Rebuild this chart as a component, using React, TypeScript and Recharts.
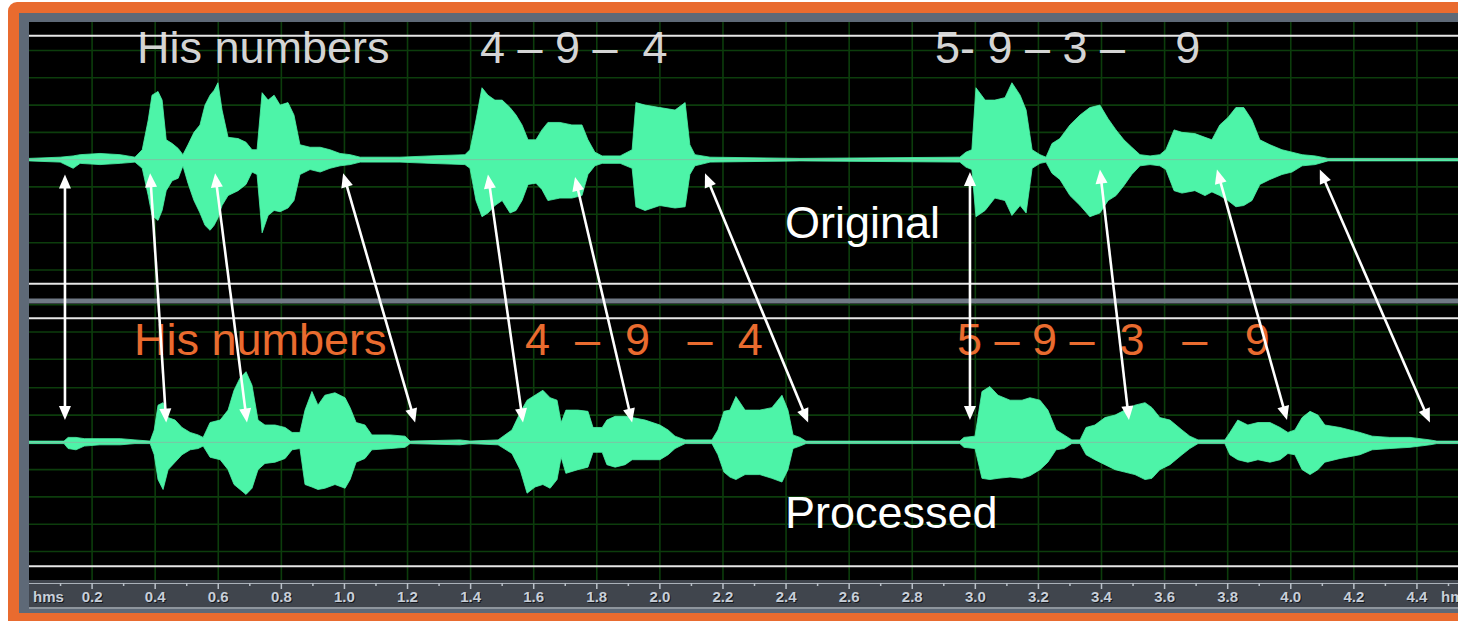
import React from 'react';
import { ComposedChart, Area, XAxis, YAxis, CartesianGrid, ReferenceLine, Customized } from 'recharts';

// envelope of each track: [time s, upper %, lower %] (100% = full scale)
const ORIGINAL: number[][] = [
  [0.000, 1, -1], [0.099, 2, -2], [0.140, 3, -7], [0.162, 4, -3], [0.225, 5, -4], [0.289, 4, -3],
  [0.336, 2, -2], [0.359, 8, -7], [0.378, 32, -29], [0.390, 52, -45], [0.409, 55, -49], [0.422, 48, -41],
  [0.435, 16, -25], [0.454, 13, -17], [0.473, 9, -15], [0.488, 4, -5], [0.504, 12, -19], [0.523, 22, -33],
  [0.542, 28, -43], [0.558, 44, -53], [0.574, 52, -57], [0.587, 56, -53], [0.599, 62, -47], [0.612, 40, -37],
  [0.631, 18, -29], [0.663, 17, -25], [0.688, 14, -20], [0.707, 8, -10], [0.723, 8, -12], [0.739, 54, -59],
  [0.758, 48, -45], [0.777, 52, -41], [0.796, 44, -42], [0.821, 46, -39], [0.840, 36, -33], [0.859, 12, -12],
  [0.891, 10, -8], [0.923, 10, -10], [0.954, 8, -7], [0.986, 5, -5], [1.018, 4, -4], [1.050, 2, -2],
  [1.176, 2, -2], [1.271, 3, -3], [1.382, 4, -4], [1.398, 8, -7], [1.417, 32, -33], [1.436, 58, -46],
  [1.455, 52, -43], [1.477, 48, -37], [1.500, 48, -33], [1.525, 42, -43], [1.544, 36, -41], [1.563, 28, -33],
  [1.582, 16, -20], [1.607, 16, -19], [1.626, 24, -24], [1.645, 30, -33], [1.683, 30, -31], [1.721, 28, -31],
  [1.753, 28, -29], [1.772, 16, -12], [1.794, 6, -5], [1.817, 3, -3], [1.874, 3, -3], [1.912, 8, -7],
  [1.924, 46, -38], [1.953, 44, -41], [2.000, 42, -37], [2.048, 40, -39], [2.080, 46, -38], [2.095, 12, -12],
  [2.111, 4, -5], [2.159, 2, -2], [2.444, 1, -1], [2.951, 2, -2], [2.970, 6, -6], [2.989, 8, -8],
  [3.002, 58, -46], [3.031, 48, -41], [3.062, 48, -31], [3.094, 50, -33], [3.116, 62, -45], [3.142, 52, -37],
  [3.161, 40, -43], [3.180, 8, -7], [3.205, 4, -3], [3.224, 2, -2], [3.243, 13, -11], [3.268, 17, -16],
  [3.300, 28, -29], [3.332, 36, -37], [3.363, 42, -46], [3.395, 44, -43], [3.421, 33, -33], [3.446, 24, -29],
  [3.471, 16, -21], [3.496, 10, -12], [3.522, 4, -5], [3.554, 3, -4], [3.585, 4, -5], [3.604, 8, -8],
  [3.630, 24, -25], [3.655, 22, -27], [3.696, 21, -25], [3.728, 18, -29], [3.750, 16, -26], [3.775, 28, -29],
  [3.801, 34, -33], [3.826, 42, -38], [3.851, 42, -37], [3.877, 32, -33], [3.902, 16, -20], [3.934, 12, -16],
  [3.972, 8, -12], [4.004, 6, -10], [4.036, 4, -5], [4.077, 3, -4], [4.118, 1, -1], [4.565, 1, -1],
];

const PROCESSED: number[][] = [
  [0.000, 1, -1], [0.111, 1, -1], [0.124, 4, -5], [0.149, 4, -6], [0.175, 3, -3], [0.225, 3, -2],
  [0.289, 3, -2], [0.336, 2, -1], [0.384, 1, -1], [0.397, 10, -10], [0.409, 30, -30], [0.425, 32, -38],
  [0.441, 20, -22], [0.463, 18, -16], [0.485, 12, -10], [0.511, 8, -6], [0.536, 6, -5], [0.552, 4, -3],
  [0.574, 16, -12], [0.606, 18, -14], [0.631, 26, -22], [0.650, 42, -34], [0.669, 52, -38], [0.688, 57, -42],
  [0.707, 46, -37], [0.726, 18, -22], [0.748, 14, -17], [0.780, 14, -16], [0.812, 12, -13], [0.834, 8, -6],
  [0.859, 8, -5], [0.875, 26, -34], [0.897, 41, -36], [0.916, 30, -38], [0.938, 38, -37], [0.970, 40, -34],
  [1.002, 36, -37], [1.018, 28, -30], [1.037, 16, -16], [1.065, 14, -13], [1.087, 6, -6], [1.145, 6, -5],
  [1.192, 5, -4], [1.208, 1, -1], [1.366, 2, -2], [1.398, 1, -1], [1.487, 2, -2], [1.531, 10, -9],
  [1.557, 24, -22], [1.579, 34, -41], [1.604, 38, -36], [1.629, 42, -34], [1.652, 36, -37], [1.674, 34, -30],
  [1.687, 16, -12], [1.702, 26, -25], [1.740, 26, -22], [1.772, 25, -20], [1.788, 12, -8], [1.817, 12, -8],
  [1.832, 18, -18], [1.858, 21, -20], [1.890, 21, -18], [1.912, 20, -14], [1.953, 18, -14], [2.000, 14, -14],
  [2.026, 10, -10], [2.048, 5, -5], [2.080, 2, -1], [2.165, 2, -1], [2.184, 10, -10], [2.203, 25, -24],
  [2.222, 26, -28], [2.241, 37, -30], [2.270, 26, -26], [2.317, 26, -26], [2.355, 28, -29], [2.387, 38, -32],
  [2.406, 26, -22], [2.422, 6, -5], [2.444, 4, -3], [2.463, 1, -1], [2.951, 1, -1], [2.964, 4, -4],
  [2.999, 5, -5], [3.021, 41, -29], [3.046, 45, -30], [3.072, 38, -29], [3.110, 34, -28], [3.148, 34, -29],
  [3.173, 36, -27], [3.205, 34, -22], [3.230, 26, -16], [3.256, 10, -6], [3.281, 6, -5], [3.306, 2, -1],
  [3.332, 2, -1], [3.351, 12, -10], [3.379, 14, -14], [3.411, 20, -18], [3.443, 22, -22], [3.474, 26, -24],
  [3.506, 30, -26], [3.538, 32, -30], [3.560, 28, -29], [3.585, 20, -22], [3.617, 18, -18], [3.655, 10, -10],
  [3.680, 5, -5], [3.706, 2, -1], [3.791, 2, -1], [3.807, 8, -10], [3.832, 18, -14], [3.864, 14, -16],
  [3.896, 16, -14], [3.934, 16, -16], [3.966, 12, -14], [3.991, 8, -9], [4.013, 10, -10], [4.036, 20, -22],
  [4.061, 25, -26], [4.086, 22, -22], [4.108, 14, -16], [4.156, 12, -13], [4.219, 8, -10], [4.258, 5, -6],
  [4.314, 4, -5], [4.378, 4, -4], [4.441, 2, -2], [4.463, 1, -1], [4.565, 1, -1],
];

// arrows: [time on original, amplitude %, time on processed, amplitude %]
const ARROWS: number[][] = [
  [0.114, -12, 0.114, 18], [0.384, -11, 0.435, 16], [0.590, -11, 0.691, 16], [0.996, -11, 1.224, 16],
  [1.455, -12, 1.566, 16], [1.731, -14, 1.912, 16], [2.143, -11, 2.470, 16], [2.983, -10, 2.983, 18],
  [3.395, -8, 3.487, 18], [3.766, -8, 3.988, 18], [4.092, -8, 4.441, 16],
];

const RULER_TICKS = [
  0.1, 0.2, 0.3, 0.4, 0.5, 0.6, 0.7, 0.8, 0.9, 1.0, 1.1, 1.2, 1.3, 1.4, 1.5, 1.6, 1.7, 1.8, 1.9, 2.0, 2.1, 2.2,
  2.3, 2.4, 2.5, 2.6, 2.7, 2.8, 2.9, 3.0, 3.1, 3.2, 3.3, 3.4, 3.5, 3.6, 3.7, 3.8, 3.9, 4.0, 4.1, 4.2, 4.3, 4.4, 4.5,
];
const GRID_X = [
  0.2, 0.4, 0.6, 0.8, 1.0, 1.2, 1.4, 1.6, 1.8, 2.0, 2.2, 2.4, 2.6, 2.8, 3.0, 3.2, 3.4, 3.6, 3.8, 4.0, 4.2, 4.4,
];
const GRID_Y = [202, 180, 158, 136, 114, 92, 70, 47, 25, 3, -3, -25, -47, -70, -92, -114, -136, -158, -180, -202];
const TRACK_EDGES = [214, 14, -14, -214];

const X_MAX = 4.565;
const ORIG_CENTER = 114;
const PROC_CENTER = -114;

const WAVE = '#4df4a8';
const ORANGE = '#e96b2f';
const FRAME = '#5e6977';
const FONT = '"Liberation Sans", Arial, sans-serif';

// chart origin on the page
const CX = 29;
const CY = 22;

const CAPTIONS = [
  { text: 'His numbers', x: 137, y: 63, fill: '#d4d4d4' },
  { text: '4 – 9 –  4', x: 480, y: 63, fill: '#d4d4d4' },
  { text: '5- 9 – 3 –    9', x: 935, y: 63, fill: '#d4d4d4' },
  { text: 'Original', x: 785, y: 238, fill: '#ffffff' },
  { text: 'His numbers', x: 134, y: 355, fill: ORANGE },
  { text: '4  –  9   –  4', x: 525, y: 355, fill: ORANGE },
  { text: '5 – 9 –  3   –   9', x: 957, y: 355, fill: ORANGE },
  { text: 'Processed', x: 785, y: 528, fill: '#ffffff' },
];

const origRows = ORIGINAL.map(([t, hi, lo]) => ({ t, range: [ORIG_CENTER + lo, ORIG_CENTER + hi] }));
const procRows = PROCESSED.map(([t, hi, lo]) => ({ t, range: [PROC_CENTER + lo, PROC_CENTER + hi] }));

function Captions() {
  return (
    <g style={{ fontFamily: FONT }}>
      {CAPTIONS.map((c, i) => (
        <text key={i} x={c.x - CX} y={c.y - CY} fill={c.fill} fontSize={45} style={{ whiteSpace: 'pre' }}>
          {c.text}
        </text>
      ))}
      <text x={33 - CX + 1} y={602 - CY + 1} fill="#15181d" fontSize={15} fontWeight="bold">hms</text>
      <text x={33 - CX} y={602 - CY} fill="#c8cfd9" fontSize={15} fontWeight="bold">hms</text>
      <text x={1441 - CX + 1} y={602 - CY + 1} fill="#15181d" fontSize={15} fontWeight="bold">hms</text>
      <text x={1441 - CX} y={602 - CY} fill="#c8cfd9" fontSize={15} fontWeight="bold">hms</text>
    </g>
  );
}

function RulerTick(props: any) {
  const { x, y, payload } = props;
  const v = payload.value as number;
  const major = Math.round(v * 10) % 2 === 0;
  const label = v.toFixed(1);
  return (
    <g style={{ fontFamily: FONT }}>
      <line x1={x} x2={x} y1={y + 3} y2={y + (major ? 9 : 6)} stroke="#b9c0c8" strokeWidth={1.5} />
      {major && (
        <>
          <text x={x + 1} y={y + 23} textAnchor="middle" fill="#15181d" fontSize={15} fontWeight="bold">{label}</text>
          <text x={x} y={y + 22} textAnchor="middle" fill="#c8cfd9" fontSize={15} fontWeight="bold">{label}</text>
        </>
      )}
    </g>
  );
}

function Arrow(props: any) {
  const { x1, y1, x2, y2 } = props;
  const len = Math.hypot(x2 - x1, y2 - y1) || 1;
  const dx = (x2 - x1) / len;
  const dy = (y2 - y1) / len;
  const L = 14;
  const W = 6;
  const head = (px: number, py: number, ux: number, uy: number) =>
    `${px},${py} ${px - L * ux - W * uy},${py - L * uy + W * ux} ${px - L * ux + W * uy},${py - L * uy - W * ux}`;
  return (
    <g>
      <line x1={x1 + dx * 10} y1={y1 + dy * 10} x2={x2 - dx * 10} y2={y2 - dy * 10} stroke="#ffffff" strokeWidth={2.6} />
      <polygon points={head(x2, y2, dx, dy)} fill="#ffffff" />
      <polygon points={head(x1, y1, -dx, -dy)} fill="#ffffff" />
    </g>
  );
}

export default function App() {
  return (
    <div style={{ position: 'absolute', left: 0, top: 0, width: 1458, height: 621, overflow: 'hidden', background: '#ffffff' }}>
      <div style={{ position: 'absolute', left: 8, top: 2, width: 1480, height: 640, background: ORANGE, borderRadius: 9 }} />
      <div style={{ position: 'absolute', left: 19, top: 13, width: 1470, height: 600, background: FRAME }} />
      <div style={{ position: 'absolute', left: CX, top: CY, width: 1440, height: 558, background: '#000000' }} />
      <div style={{ position: 'absolute', left: CX, top: 580, width: 1440, height: 27, background: '#40454d' }} />
      <div style={{ position: 'absolute', left: CX, top: 583, width: 1440, height: 1, background: '#aab1b9' }} />
      <div style={{ position: 'absolute', left: CX, top: 607, width: 1440, height: 2, background: '#8e959d' }} />
      <div style={{ position: 'absolute', left: CX, top: CY }}>
        <ComposedChart width={1440} height={586} margin={{ top: 0, right: 0, bottom: 0, left: 0 }}>
          <CartesianGrid stroke="#0c3d0c" strokeWidth={1.6} verticalValues={GRID_X} horizontalValues={GRID_Y} />
          <XAxis
            type="number"
            dataKey="t"
            domain={[0, X_MAX]}
            ticks={RULER_TICKS}
            interval={0}
            height={28}
            tickSize={0}
            tickMargin={0}
            axisLine={false}
            tickLine={false}
            tick={<RulerTick />}
            allowDataOverflow
          />
          <YAxis type="number" domain={[-225, 225]} hide allowDataOverflow />
          {TRACK_EDGES.map((v) => (
            <ReferenceLine key={v} y={v} stroke="#e6e6e6" strokeWidth={2} />
          ))}
          <ReferenceLine y={0} stroke="#707985" strokeWidth={5} />
          <Customized component={Captions} />
          <Area data={origRows} dataKey="range" type="linear" stroke={WAVE} strokeWidth={0.8} fill={WAVE} fillOpacity={1} isAnimationActive={false} />
          <Area data={procRows} dataKey="range" type="linear" stroke={WAVE} strokeWidth={0.8} fill={WAVE} fillOpacity={1} isAnimationActive={false} />
          <ReferenceLine y={ORIG_CENTER} stroke="#7dc4a4" strokeWidth={1} />
          <ReferenceLine y={PROC_CENTER} stroke="#7dc4a4" strokeWidth={1} />
          {ARROWS.map(([t1, a1, t2, a2], i) => (
            <ReferenceLine
              key={`arrow-${i}`}
              segment={[{ x: t1, y: ORIG_CENTER + a1 }, { x: t2, y: PROC_CENTER + a2 }]}
              stroke="#ffffff"
              ifOverflow="visible"
              shape={Arrow}
            />
          ))}
        </ComposedChart>
      </div>
    </div>
  );
}
